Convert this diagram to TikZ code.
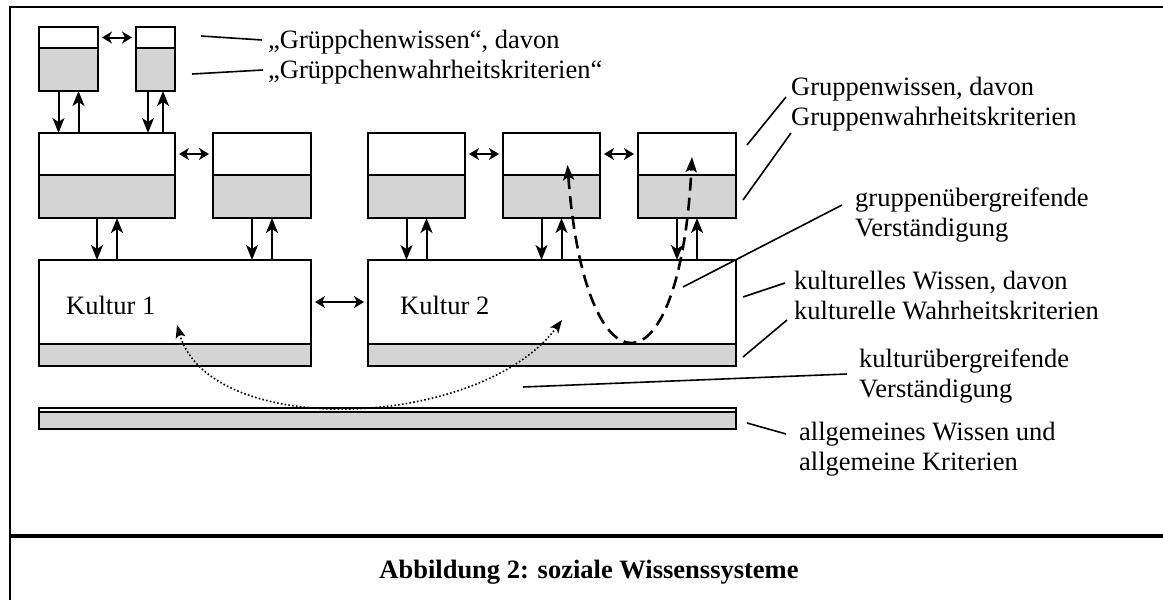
\documentclass[tikz,border=0pt]{standalone}
\usepackage{fontspec}
\setmainfont{Liberation Serif}
\usetikzlibrary{arrows.meta, positioning}
\definecolor{kritgrau}{RGB}{212,212,212}

\tikzset{
  wissen/.style={draw, fill=white, line width=2pt, inner sep=0pt, outer sep=0pt, anchor=north west},
  krit/.style={draw, fill=kritgrau, line width=2pt, inner sep=0pt, outer sep=0pt},
  pfeil/.style={line width=2pt, -{Stealth[length=15pt, width=12pt, inset=4pt]}},
  dpfeil/.style={line width=2pt, {Stealth[length=10pt, width=12pt, inset=3pt]}-{Stealth[length=10pt, width=12pt, inset=3pt]},
    shorten <=4pt, shorten >=4pt},
  gruppenpfeil/.style={line width=2.6pt, dash pattern=on 13pt off 7pt,
    {Stealth[length=15pt, width=11pt, inset=3pt]}-{Stealth[length=15pt, width=11pt, inset=3pt]}},
  kulturpfeil/.style={line width=1.6pt, dash pattern=on 1.6pt off 2.2pt,
    {Stealth[length=13pt, width=10pt, inset=3pt]}-{Stealth[length=13pt, width=10pt, inset=3pt]}},
  leiter/.style={line width=1.6pt},
  lbl/.style={font=\fontsize{26.5}{30}\selectfont, inner sep=0pt, align=left, anchor=base west},
}

\begin{document}
\begin{tikzpicture}[x=1pt, y=-1pt]
\useasboundingbox (0,0) rectangle (1163,600);
\draw[line width=2pt] (10,600) -- (10,7) -- (1163,7);
\draw[line width=4pt] (10,536) -- (1163,536);

\foreach \n/\x/\y/\w/\hw/\hk in {g1/39/27/59/21/43, g2/136/27/39/21/43,
    gr1/39/133/136/42/43, gr2/213/133/98/42/43, gr3/368/133/97/42/43,
    gr4/503/133/97/42/43, gr5/638/133/98/42/43,
    kult1/39/260/272/84/22, kult2/368/260/368/84/22, allg/39/408/697/4/17}{
  \node[wissen, minimum width=\w pt, minimum height=\hw pt] (\n) at (\x,\y) {};
  \node[krit, below=0pt of \n, minimum width=\w pt, minimum height=\hk pt] (\n-k) {};
}

\node[lbl] (k1txt) at (66,314) {Kultur 1};
\node[lbl] (k2txt) at (400,314) {Kultur 2};

\foreach \a/\b in {g1/g2, gr1/gr2, gr3/gr4, gr4/gr5, kult1/kult2}
  \draw[dpfeil] (\a.east) -- (\b.west);

\foreach \o/\u/\d in {g1/gr1/10, g2/gr1/7.5, gr1/kult1/10, gr2/kult1/10,
    gr3/kult2/10, gr4/kult2/10, gr5/kult2/10}{
  \draw[pfeil] ([xshift=-\d pt]\o-k.south) -- ([xshift=-\d pt]\o-k.south |- \u.north);
  \draw[pfeil] ([xshift=\d pt]\o-k.south |- \u.north) -- ([xshift=\d pt]\o-k.south);
}

\draw[gruppenpfeil] ([shift={(16,-10)}]gr4.south) .. controls (585,400) and (680,400) .. ([shift={(5,-18)}]gr5.south);
\draw[kulturpfeil] ([shift={(2,-19)}]kult1.south) .. controls (210,440) and (480,430) .. ([shift={(10,-24)}]kult2.south);

% base west sitzt auf der zweiten Zeile
\node[lbl] (lgr) at (268,78) {„Grüppchenwissen“, davon\\„Grüppchenwahrheitskriterien“};
\node[lbl] (lgw) at (791,125) {Gruppenwissen, davon\\Gruppenwahrheitskriterien};
\node[lbl] (lgv) at (855,236) {gruppenübergreifende\\Verständigung};
\node[lbl] (lkw) at (794,319) {kulturelles Wissen, davon\\kulturelle Wahrheitskriterien};
\node[lbl] (lkv) at (859,397) {kulturübergreifende\\Verständigung};
\node[lbl] (lallg) at (799,470) {allgemeines Wissen und\\allgemeine Kriterien};

\draw[leiter] ([shift={(26,-1.5)}]g2.east) -- ([shift={(-6,-38)}]lgr.base west);
\draw[leiter] ([shift={(17,4.5)}]g2-k.east) -- ([shift={(-5,-8)}]lgr.base west);
\draw[leiter] ([shift={(11,-9)}]gr5.east) -- ([shift={(-5,-28)}]lgw.base west);
\draw[leiter] ([shift={(7,3.5)}]gr5-k.east) -- ([shift={(0,8)}]lgw.base west);
\draw[leiter] ([shift={(-53,-15)}]kult2.east) -- ([shift={(-13,-31)}]lgv.base west);
\draw[leiter] ([shift={(7,-5)}]kult2.east) -- ([shift={(-9,-36)}]lkw.base west);
\draw[leiter] ([shift={(7,2)}]kult2-k.east) -- ([shift={(-7,1)}]lkw.base west);
\draw[leiter] ([shift={(-29,21)}]kult2-k.south) -- ([shift={(-12,-23)}]lkv.base west);
\draw[leiter] ([shift={(11,2.5)}]allg-k.east) -- ([shift={(-13,-36)}]lallg.base west);

\node[font=\bfseries\fontsize{26.5}{30}\selectfont, anchor=base, inner sep=0pt] (titel) at (589,578) {Abbildung 2: soziale Wissenssysteme};
\end{tikzpicture}
\end{document}
